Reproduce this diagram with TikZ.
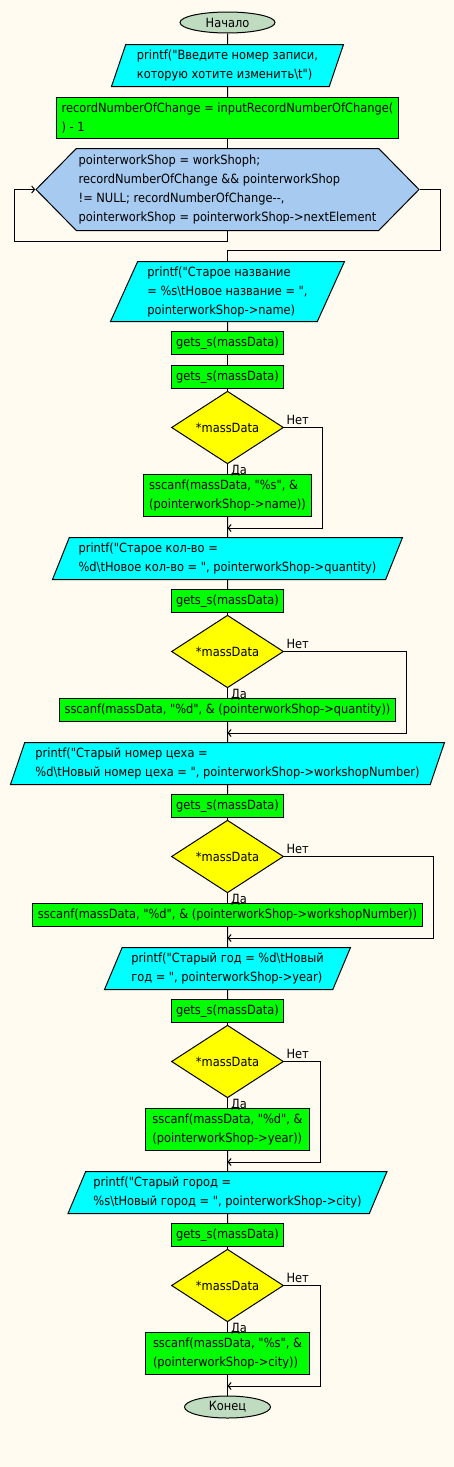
\documentclass[tikz,border=0pt]{standalone}
\usepackage{fontspec}
\setmainfont{DejaVu Sans Condensed}[Ligatures=TeXOff]
\usetikzlibrary{shapes.geometric,shapes.symbols,arrows.meta}
\definecolor{bgcol}{HTML}{FFFBF0}
\definecolor{termcol}{HTML}{C0DCC0}
\definecolor{iocol}{HTML}{00FFFF}
\definecolor{proccol}{HTML}{00FF00}
\definecolor{condcol}{HTML}{FFFF00}
\definecolor{loopcol}{HTML}{A6CAF0}
\tikzset{
  every node/.style={font=\fontsize{12.7pt}{19pt}\selectfont, inner sep=2pt},
  term/.style={ellipse, draw, fill=termcol, minimum height=21pt, inner sep=0pt},
  proc/.style={rectangle, draw, fill=proccol, align=left, minimum height=23pt},
  io/.style={trapezium, draw, fill=iocol, align=left, trapezium stretches body, minimum height=42pt},
  cond/.style={diamond, draw, fill=condcol, minimum width=112pt, minimum height=55pt, inner sep=0pt},
  loopbox/.style={signal, signal to=west and east, signal pointer angle=91, draw, fill=loopcol, align=left},
  arr/.style={-{Straight Barb[length=3pt,width=7pt]}},
}
\begin{document}
\begin{tikzpicture}[x=1pt, y=-1pt, line width=1pt]
    \useasboundingbox (0,0) rectangle (454,1467);
    \fill[bgcol] (0,0) rectangle (454,1467);
    % blocks
    \node[term, minimum width=95pt] (start) at (227.5,22.5) {Начало};
    \node[io, trapezium left angle=68, trapezium right angle=112, minimum width=232pt] (io1) at (227.5,65.5)
        {printf("Введите номер записи,\\ которую хотите изменить\textbackslash t")};
    \node[proc, minimum width=342pt, minimum height=41pt] (set1) at (227.5,118)
        {recordNumberOfChange = inputRecordNumberOfChange(\\ ) - 1};
    \node[loopbox, minimum width=383pt, minimum height=82pt] (loop) at (227.5,189.5)
        {pointerworkShop = workShoph;\\ recordNumberOfChange \&\& pointerworkShop\\ != NULL; recordNumberOfChange-{}-,\\ pointerworkShop = pointerworkShop->nextElement};
    \node[io, trapezium left angle=63.4, trapezium right angle=116.6, minimum width=234pt, minimum height=60pt] (io2) at (227.5,291.5)
        {printf("Старое название\\ = \%s\textbackslash tНовое название = ",\\ pointerworkShop->name)};
    \node[proc, minimum width=112pt] (gets1) at (227.5,343) {gets\_s(massData)};
    \node[proc, minimum width=112pt] (gets2) at (227.5,377) {gets\_s(massData)};
    \node[cond] (dec1) at (227.5,427.5) {*massData};
    \node[proc, minimum width=168pt, minimum height=42pt] (scan1) at (227.5,495.5)
        {sscanf(massData, "\%s", \&\\ (pointerworkShop->name))};
    \node[io, trapezium left angle=64.5, trapezium right angle=115.5, minimum width=350pt] (io3) at (227.5,558.5)
        {printf("Старое кол-во =\\ \%d\textbackslash tНовое кол-во = ", pointerworkShop->quantity)};
    \node[proc, minimum width=112pt] (gets3) at (227.5,601) {gets\_s(massData)};
    \node[cond] (dec2) at (227.5,651.5) {*massData};
    \node[proc, minimum width=336pt] (scan2) at (227.5,710)
        {sscanf(massData, "\%d", \& (pointerworkShop->quantity))};
    \node[io, trapezium left angle=68, trapezium right angle=112, minimum width=434pt] (io4) at (227.5,763.5)
        {printf("Старый номер цеха =\\ \%d\textbackslash tНовый номер цеха = ", pointerworkShop->workshopNumber)};
    \node[proc, minimum width=112pt] (gets4) at (227.5,806) {gets\_s(massData)};
    \node[cond] (dec3) at (227.5,856.5) {*massData};
    \node[proc, minimum width=390pt] (scan3) at (227.5,915)
        {sscanf(massData, "\%d", \& (pointerworkShop->workshopNumber))};
    \node[io, trapezium left angle=63.4, trapezium right angle=116.6, minimum width=246pt] (io5) at (227.5,968.5)
        {printf("Старый год = \%d\textbackslash tНовый\\ год = ", pointerworkShop->year)};
    \node[proc, minimum width=112pt] (gets5) at (227.5,1011) {gets\_s(massData)};
    \node[cond] (dec4) at (227.5,1061.5) {*massData};
    \node[proc, minimum width=164pt, minimum height=42pt] (scan4) at (227.5,1129.5)
        {sscanf(massData, "\%d", \&\\ (pointerworkShop->year))};
    \node[io, trapezium left angle=63.4, trapezium right angle=116.6, minimum width=319pt] (io6) at (227.5,1192.5)
        {printf("Старый город =\\ \%s\textbackslash tНовый город = ", pointerworkShop->city)};
    \node[proc, minimum width=112pt] (gets6) at (227.5,1235) {gets\_s(massData)};
    \node[cond] (dec5) at (227.5,1285.5) {*massData};
    \node[proc, minimum width=164pt, minimum height=42pt] (scan5) at (227.5,1353.5)
        {sscanf(massData, "\%s", \&\\ (pointerworkShop->city))};
    \node[term, minimum width=86pt, minimum height=22pt] (end) at (227.5,1407) {Конец};
    % main line
    \foreach \a/\b in {start/io1, io1/set1, set1/loop, io2/gets1, gets1/gets2, gets2/dec1,
        scan1/io3, io3/gets3, gets3/dec2, scan2/io4, io4/gets4, gets4/dec3,
        scan3/io5, io5/gets5, gets5/dec4, scan4/io6, io6/gets6, gets6/dec5, scan5/end}
        \draw (\a.south) -- (\b.north);
    % loop
    \draw[arr] (loop.south) -- ++(0,10) -| ([xshift=-20.5pt]loop.west) -- (loop.west);
    \draw (loop.east) -- ++(20.5,0) |- ([yshift=10pt]io2.north) -- (io2.north);
    % branches
    \foreach \i/\r in {1/38, 2/122, 3/149, 4/36, 5/36} {
        \coordinate (j\i) at ([yshift=-11pt]scan\i.south);
        \node[anchor=west, inner sep=1pt] (no\i) at ([shift={(1,-8)}]dec\i.east) {Нет};
        \node[anchor=west, inner sep=1pt] (yes\i) at ([shift={(2,7)}]dec\i.south) {Да};
        \draw (dec\i.south) -- (scan\i.north);
        \draw[arr] (dec\i.east) -- ++(\r,0) |- (j\i);
    }
\end{tikzpicture}
\end{document}
